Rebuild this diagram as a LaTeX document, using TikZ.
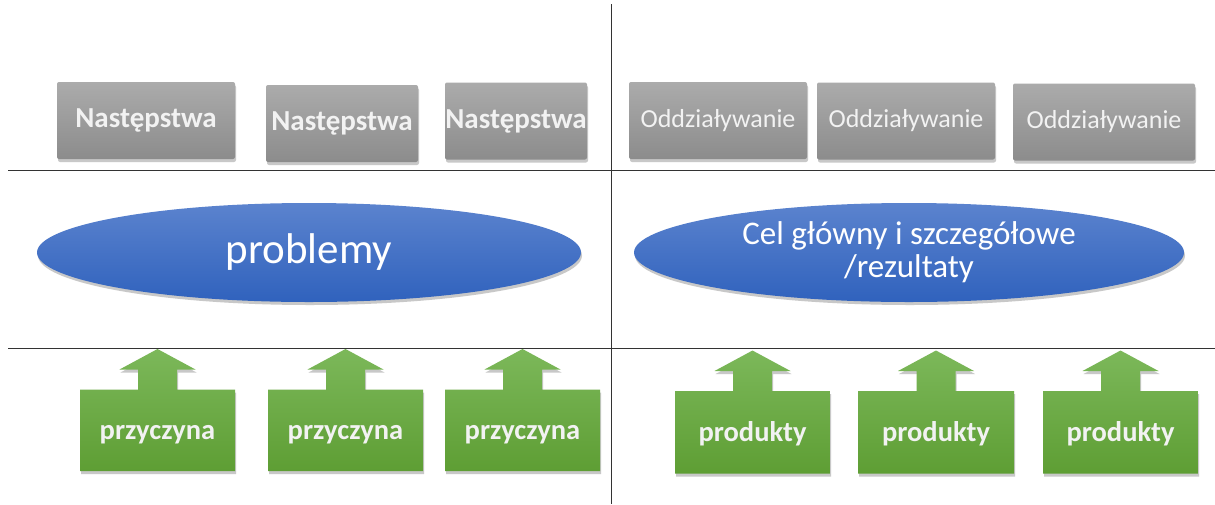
\documentclass[tikz,border=0pt]{standalone}
\usepackage{fontspec}
\setmainfont{Carlito}
\usetikzlibrary{shadows,shapes.geometric}
\definecolor{gtop}{HTML}{ABABAB}
\definecolor{gbot}{HTML}{8C8C8C}
\definecolor{btop}{HTML}{5B83CE}
\definecolor{bbot}{HTML}{3062BD}
\definecolor{grtop}{HTML}{7CB85A}
\definecolor{grbot}{HTML}{5E9E34}
\definecolor{gtext}{HTML}{F2F2F2}
\tikzset{
  shad/.style={drop shadow={shadow xshift=1pt,shadow yshift=-3pt,opacity=0.3,fill=black!70}},
  graybox/.style={shad,rectangle,rounded corners=2pt,top color=gtop,bottom color=gbot,text=gtext,minimum height=77pt,inner sep=0pt},
  blueell/.style={shad,ellipse,top color=btop,bottom color=bbot,text=white,inner sep=0pt},
  greenshape/.style={shad,top color=grtop,bottom color=grbot},
  greentext/.style={text=gtext,font=\fontsize{28.5}{32}\selectfont\bfseries,anchor=base},
  rule/.style={draw=black!80,line width=1pt}
}
\newcommand{\grarrow}[5]{% name, left, right, top, bottom
  \pgfmathsetmacro{\cx}{(#2+#3)/2}
  \path[greenshape] (#2,#4) -- (\cx-19.5,#4) -- (\cx-19.5,#4-20) -- (\cx-38,#4-20) -- (\cx,#4-40.5) -- (\cx+38,#4-20) -- (\cx+19.5,#4-20) -- (\cx+19.5,#4) -- (#3,#4) -- (#3,#5) -- (#2,#5) -- cycle;
}
\begin{document}
\begin{tikzpicture}[x=1pt,y=-1pt]
\useasboundingbox (0,0) rectangle (1215,504);
\fill[white] (0,0) rectangle (1215,504);
% rules
\coordinate (vt) at (611,4);
\coordinate (vb) at (611,504);
\coordinate (h1l) at (8,170.5);
\coordinate (h1r) at (1215,170.5);
\coordinate (h2l) at (8,348.5);
\coordinate (h2r) at (1215,348.5);
\draw[rule] (vt) -- (vb);
\draw[rule] (h1l) -- (h1r);
\draw[rule] (h2l) -- (h2r);
% gray boxes
\node[graybox,minimum width=178pt,font=\fontsize{29}{32}\selectfont\bfseries] (n1) at (146,120.5) {Następstwa};
\node[graybox,minimum width=152pt,font=\fontsize{29}{32}\selectfont\bfseries] (n2) at (342,123.5) {Następstwa};
\node[graybox,minimum width=142pt,font=\fontsize{29}{32}\selectfont\bfseries] (n3) at (516,121) {Następstwa};
\node[graybox,minimum width=178pt,font=\fontsize{26}{30}\selectfont] (o1) at (718,120.5) {Oddziaływanie};
\node[graybox,minimum width=178pt,font=\fontsize{26}{30}\selectfont] (o2) at (906,121) {Oddziaływanie};
\node[graybox,minimum width=182pt,font=\fontsize{26}{30}\selectfont] (o3) at (1104,122) {Oddziaływanie};
% ellipses
\node[blueell,minimum width=544pt,minimum height=99pt,font=\fontsize{43}{46}\selectfont] (pr) at (309,252.5) {problemy};
\node[blueell,minimum width=550pt,minimum height=99pt,font=\fontsize{33}{33}\selectfont,align=center] (cel) at (909,252.5) {Cel główny i szczegółowe\\/rezultaty};
% green arrows
\grarrow{p1}{80}{235}{389.5}{471}
\node[greentext] (p1) at (157.5,439) {przyczyna};
\grarrow{p2}{268}{423}{389.5}{471}
\node[greentext] (p2) at (345.5,439) {przyczyna};
\grarrow{p3}{445}{600}{389.5}{471}
\node[greentext] (p3) at (522.5,439) {przyczyna};
\grarrow{r1}{675}{830}{391}{473.5}
\node[greentext] (r1) at (752.5,441) {produkty};
\grarrow{r2}{858}{1014}{391}{473.5}
\node[greentext] (r2) at (936,441) {produkty};
\grarrow{r3}{1043}{1198}{391}{473.5}
\node[greentext] (r3) at (1120.5,441) {produkty};
\end{tikzpicture}
\end{document}
